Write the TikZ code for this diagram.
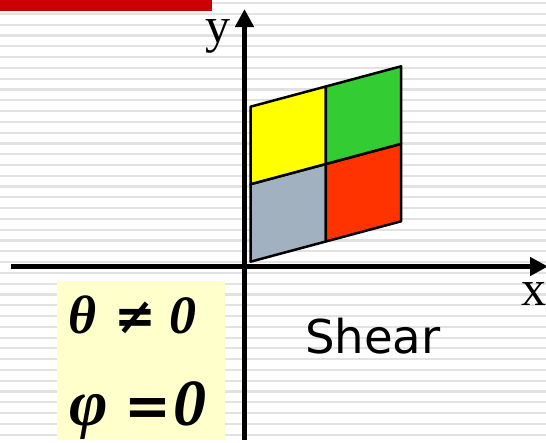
\documentclass[tikz,border=0pt]{standalone}
\usepackage{fontspec}
\setmainfont{Liberation Serif}
\newfontfamily\labelsans{DejaVu Sans}
\usepackage{xcolor}
\usepackage{tikz}
\usetikzlibrary{arrows.meta}

\begin{document}
\begin{tikzpicture}[x=1pt, y=-1pt]
    % --- GLOBAL DEFINITIONS ---
    \def\ox{250.5}  % lower left corner of the sheared grid
    \def\oy{261.7}
    \def\cw{75.3}   % cell width
    \def\ch{77.5}   % cell height
    \def\sh{20.2}   % vertical rise per cell (shear)

    % Custom colors
    \definecolor{ruleline}{RGB}{226, 226, 226}
    \definecolor{titlered}{RGB}{204, 0, 0}
    \definecolor{cellyellow}{RGB}{255, 255, 0}
    \definecolor{cellgreen}{RGB}{51, 204, 51}
    \definecolor{cellgray}{RGB}{162, 177, 191}
    \definecolor{cellred}{RGB}{255, 51, 0}
    \definecolor{notepaper}{RGB}{255, 255, 204}

    \tikzset{
        axisarrow/.style={-{Triangle[length=18pt, width=18pt]}, line width=4.5pt},
        cell/.style={draw=black, line width=2.5pt, line join=round},
        axislabel/.style={anchor=base, font=\fontsize{50}{50}\selectfont, inner sep=0pt},
        condsmall/.style={anchor=base, inner sep=0pt,
            font=\fontsize{54}{54}\selectfont\bfseries\itshape},
        condlarge/.style={anchor=base, inner sep=0pt,
            font=\fontsize{66}{66}\selectfont\bfseries\itshape},
        condop/.style={anchor=base, inner sep=0pt,
            font=\labelsans\bfseries\fontsize{#1}{#1}\selectfont}
    }

    \useasboundingbox (0,0) rectangle (546,442);

    % lined paper background
    \foreach \k in {0,...,40}
        \draw[ruleline, line width=2.2pt] (0,{3.2+10.787*\k}) -- (546,{3.2+10.787*\k});
    \fill[titlered] (0,0) rectangle (212,10.7);

    % grid corners (i along x, j along y)
    \foreach \i in {0,1,2}
        \foreach \j in {0,1,2}
            \coordinate (p\i\j) at ({\ox+\cw*\i}, {\oy-\ch*\j-\sh*\i});

    % CELLS
    \draw[cell, fill=cellgray]   (p00) -- (p10) -- (p11) -- (p01) -- cycle;
    \draw[cell, fill=cellred]    (p10) -- (p20) -- (p21) -- (p11) -- cycle;
    \draw[cell, fill=cellyellow] (p01) -- (p11) -- (p12) -- (p02) -- cycle;
    \draw[cell, fill=cellgreen]  (p11) -- (p21) -- (p22) -- (p12) -- cycle;

    % AXES
    \coordinate (xstart) at (11,266.5);
    \coordinate (xend) at (548,266.5);
    \coordinate (ystart) at (244.5,440);
    \coordinate (yend) at (244.5,9);
    \draw[axisarrow] (xstart) -- (xend);
    \draw[axisarrow] (ystart) -- (yend);
    \node[axislabel] (ylabel) at (218,42) {y};
    \node[axislabel] (xlabel) at (534,305) {x};

    % note box
    \fill[notepaper] (57,281) rectangle (225,440);
    \node[condsmall] (theta) at (83,333) {θ};
    \node[condop=50] (neq) at (135.5,333) {≠};
    \node[condsmall] (zeroA) at (182.5,333) {0};
    \node[condlarge] (phi) at (89,425) {φ};
    \node[condop=56] (eq) at (147.5,425) {=};
    \node[condlarge] (zeroB) at (190,425) {0};

    \node[anchor=base west, inner sep=0pt, font=\labelsans\fontsize{46.6}{46.6}\selectfont] (shear) at (305,353) {Shear};
\end{tikzpicture}
\end{document}
